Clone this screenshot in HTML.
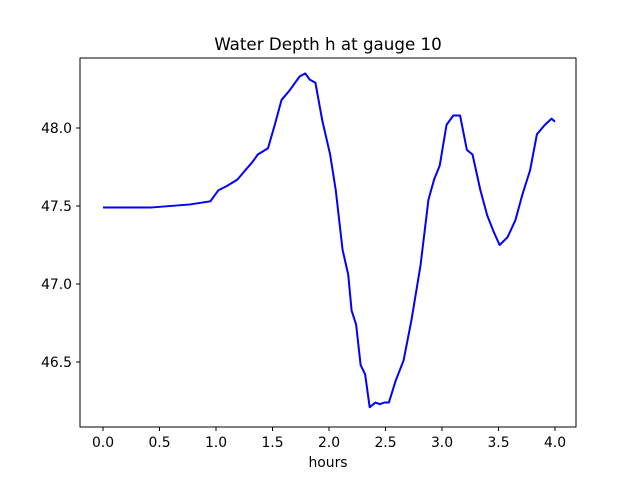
<!DOCTYPE html>
<html><head><meta charset="utf-8"><style>
body{margin:0;background:#fff;}
svg{display:block;font-family:"DejaVu Sans","Liberation Sans",sans-serif;}
</style></head><body>
<svg id="chart" width="640" height="480">
<rect width="640" height="480" fill="#fff"/>
<text x="328" y="50" font-size="16.7" text-anchor="middle">Water Depth h at gauge 10</text>
<g id="xt"></g>
<g id="yt"></g>
<polyline id="line" fill="none" stroke="#0000ff" stroke-width="2" stroke-linejoin="round"/>
<rect x="80" y="58" width="496" height="369" fill="none" stroke="#000" stroke-width="1"/>
<text x="328" y="467" font-size="13.9" text-anchor="middle">hours</text>
</svg>
<script>
const times=[0,0.42,0.77,0.95,1.02,1.1,1.19,1.26,1.32,1.37,1.46,1.52,1.58,1.65,1.74,1.79,1.83,1.88,1.94,2.01,2.06,2.12,2.17,2.20,2.24,2.28,2.32,2.36,2.41,2.45,2.49,2.53,2.59,2.66,2.73,2.81,2.88,2.93,2.98,3.04,3.10,3.16,3.22,3.27,3.34,3.40,3.46,3.51,3.58,3.65,3.71,3.78,3.84,3.91,3.97,4.0];
const depths=[47.49,47.49,47.51,47.53,47.60,47.63,47.67,47.73,47.78,47.83,47.87,48.02,48.18,48.24,48.33,48.35,48.31,48.29,48.05,47.83,47.60,47.22,47.06,46.83,46.74,46.48,46.42,46.21,46.24,46.23,46.24,46.24,46.38,46.51,46.77,47.12,47.54,47.67,47.76,48.02,48.08,48.08,47.86,47.83,47.60,47.44,47.33,47.25,47.30,47.41,47.57,47.73,47.96,48.02,48.06,48.04];
const xTicks=[0,0.5,1,1.5,2,2.5,3,3.5,4];
const yTicks=[46.5,47.0,47.5,48.0];
const X=t=>103+(t-0)*113;
const Y=v=>128-(v-48)*156;
const NS="http://www.w3.org/2000/svg";
const xt=document.getElementById('xt'),yt=document.getElementById('yt');
xTicks.forEach(t=>{
 const l=document.createElementNS(NS,'line');
 
 
 l.setAttribute('x1',X(t));l.setAttribute('x2',X(t));l.setAttribute('y1',427);l.setAttribute('y2',431);l.setAttribute('stroke','#000');
 xt.appendChild(l);
 const s=document.createElementNS(NS,'text');
 
 
 s.setAttribute('x',X(t));s.setAttribute('y',447);s.setAttribute('font-size','13.9');s.setAttribute('text-anchor','middle');
 s.textContent=t.toFixed(1);xt.appendChild(s);
});
yTicks.forEach(v=>{
 const l=document.createElementNS(NS,'line');
 
 
 l.setAttribute('x1',76);l.setAttribute('x2',80);l.setAttribute('y1',Y(v));l.setAttribute('y2',Y(v));l.setAttribute('stroke','#000');
 yt.appendChild(l);
 const s=document.createElementNS(NS,'text');
 
 
 s.setAttribute('x',72);s.setAttribute('y',Y(v)+5);s.setAttribute('font-size','13.9');s.setAttribute('text-anchor','end');
 s.textContent=v.toFixed(1);yt.appendChild(s);
});
document.getElementById('line').setAttribute('points',times.map((t,i)=>X(t)+','+Y(depths[i])).join(' '));
</script>
</body></html>
